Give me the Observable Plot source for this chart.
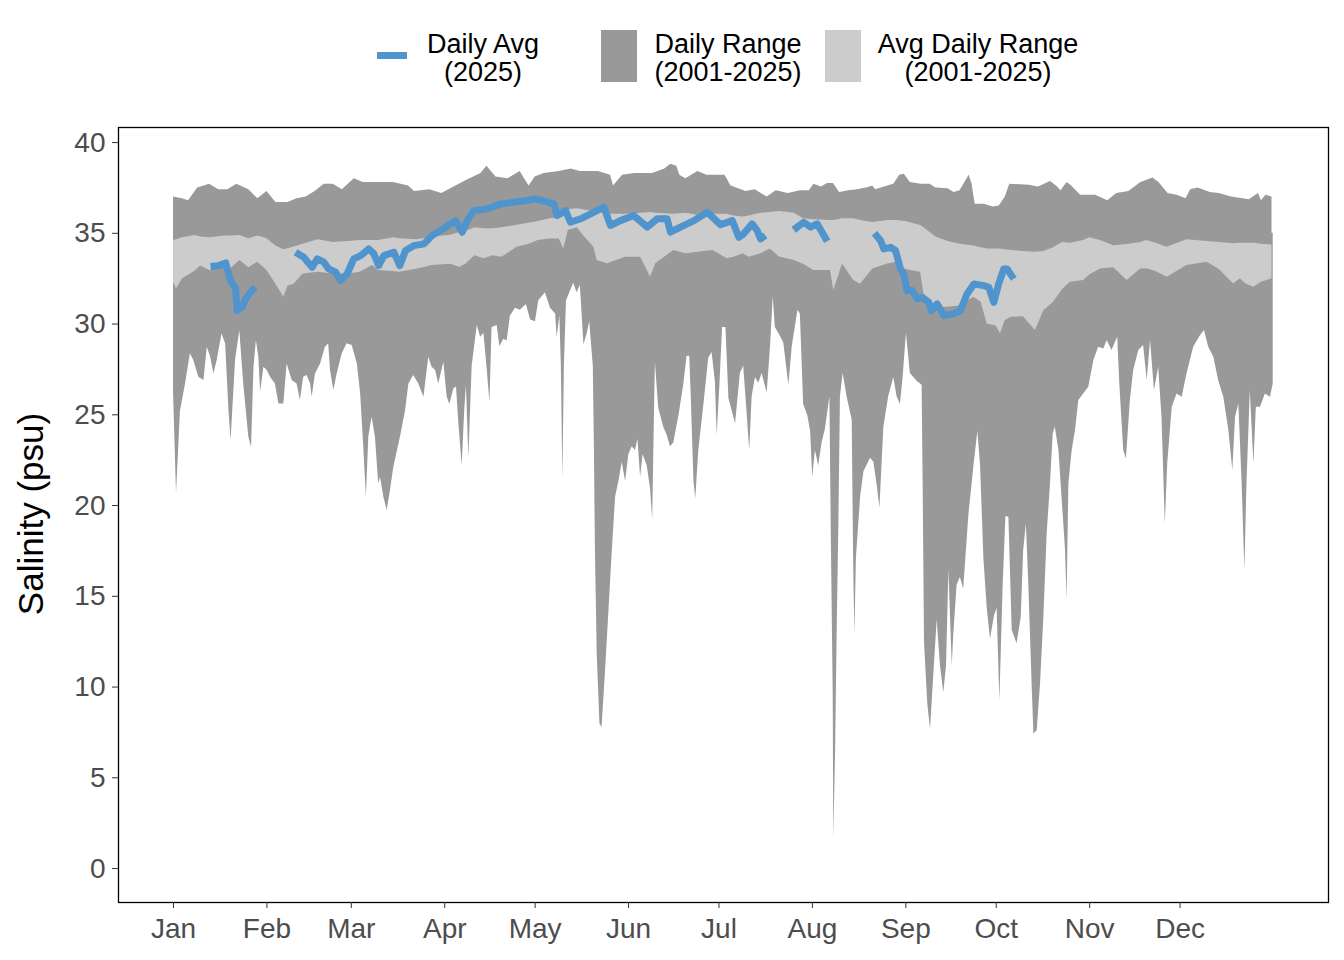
<!DOCTYPE html>
<html>
<head>
<meta charset="utf-8">
<script src="https://cdn.jsdelivr.net/npm/d3@7"></script>
<script src="https://cdn.jsdelivr.net/npm/@observablehq/plot@0.6"></script>
<style>
  body { margin: 0; background: white; font-family: "Liberation Sans", Arial, sans-serif; }
  #wrap { position: relative; width: 1344px; height: 960px; }
  #legend { position: absolute; left: 0; top: 0; width: 1344px; height: 100px; }
  .sw { position: absolute; }
  .lt { position: absolute; width: 260px; text-align: center; font-size: 27px; line-height: 28px; color: #000; }
  #ytitle { position: absolute; z-index: 5; width: 400px; left: -169px; top: 495px; text-align: center; font-size: 35px; line-height: 38px; color: #000; transform: rotate(-90deg); }
  #chart { position: absolute; left: 0; top: 100px; z-index: 1; }
</style>
</head>
<body>
<div id="wrap">
  <div id="legend">
    <div class="sw" style="left:377px;top:52px;width:30px;height:7px;background:#4F94CD"></div>
    <div class="lt" style="left:353px;top:30px">Daily Avg<br>(2025)</div>
    <div class="sw" style="left:601px;top:30px;width:36px;height:52px;background:#999999"></div>
    <div class="lt" style="left:598px;top:30px">Daily Range<br>(2001-2025)</div>
    <div class="sw" style="left:825px;top:30px;width:36px;height:52px;background:#CCCCCC"></div>
    <div class="lt" style="left:848px;top:30px">Avg Daily Range<br>(2001-2025)</div>
  </div>
  <div id="chart"></div>
  <div id="ytitle">Salinity (psu)</div>
</div>
<script>
// Month tick positions (day of year, 0 = Jan 1) and labels
const monthDays = [0, 31, 59, 90, 120, 151, 181, 212, 243, 273, 304, 334];
const monthLabels = ["Jan", "Feb", "Mar", "Apr", "May", "Jun", "Jul", "Aug", "Sep", "Oct", "Nov", "Dec"];
const yTicks = [0, 5, 10, 15, 20, 25, 30, 35, 40];

// Daily maximum (2001-2025)
const maxDays = [0,3,5,8,12,15,18,21,25,28,31,34,38,41,44,47,50,53,56,60,63,67,73,78,80,85,89,92,97,102,104,107,111,115,118,120,123,128,132,135,141,145,146,149,153,159,163,165,167,168,170,174,177,183,185,190,193,197,200,204,208,211,212.5,215,217,219,221,224,227,230,232,233,237,239,241,242.5,244.5,248,251,253,257,259,261,264,265,266,269,272,274,276,277.5,284,287,291,293,294.5,296.5,298,301,306,310,313,317,321,325,327,330,333,336,337.5,340,344,347,351,357,360,361,362.5,364.5];
const maxVals = [37.0,36.9,36.8,37.5,37.7,37.4,37.4,37.7,37.4,36.9,37.3,36.7,36.7,36.9,37.0,37.3,37.7,37.7,37.4,38.0,37.8,37.8,37.8,37.6,37.3,37.4,37.2,37.45,37.9,38.3,38.7,38.1,38.0,38.4,37.6,38.1,38.3,38.4,38.55,38.4,38.4,38.2,37.6,38.2,38.3,38.3,38.55,38.8,38.7,38.2,38.0,38.4,38.2,38.2,37.6,37.3,37.4,37.0,37.35,37.2,37.35,37.35,37.7,37.55,37.75,37.75,37.25,37.35,37.4,37.5,37.6,37.4,37.6,37.7,38.2,38.25,37.8,37.7,37.7,37.5,37.45,37.25,37.35,38.2,37.7,36.6,36.6,36.45,36.5,37.0,37.7,37.65,37.55,37.85,37.6,37.35,37.8,37.6,37.1,37.1,36.8,37.2,37.3,37.8,38.05,37.8,37.2,37.1,36.9,37.4,37.5,37.25,37.2,37.0,36.85,37.2,36.8,37.1,37.0];

// Daily minimum (2001-2025)
const minDays = [0,1,2.3,4,5.6,6.7,8.4,10.1,11.2,12.3,13.4,14.5,16.1,17.3,18.4,19.1,20.6,22,23.3,25,25.9,26.7,27.5,28.3,28.9,30,31.1,32.2,33.8,35,36.6,37.7,39.4,41,42.1,43.2,44.3,45.5,46,47.1,48.8,50.4,51.5,52.1,53.2,54.3,56,57.6,59.3,61,62.1,63.2,64,64.8,65.9,67,68.1,68.7,69.8,70.9,72,73.1,75.3,77,78.1,79.7,81.4,83.1,84.7,85.8,87,88,89.7,90.8,91.7,93,93.9,94.7,95.8,96.6,97.2,98,99.1,100.8,101.9,103,104.1,105,105.7,107.4,108.3,109.6,110.7,111.8,113.5,115.1,117.1,118.5,120.1,121.2,123.4,125.1,126.8,127.3,128.2,128.7,129.2,129.7,130.4,132.8,133.9,135,136.2,137.3,138.1,139.3,139.7,140,140.6,141.5,142.2,143.3,144.4,145.6,146.7,147.8,148.9,150,151.1,152.2,153.3,154.1,155,155.8,157.2,158.3,159,159.6,159.9,161,162.7,163.8,164.9,166,167.7,169.3,170.4,171.3,171.8,172.7,173.3,174.3,176,177.6,178.7,179.8,180.4,181.3,182.2,183.3,184.3,186.5,188.1,189.2,190.3,191.2,192,193.1,194.2,195.3,197,198.1,199,199.7,201.2,202.5,204.2,205.3,207.2,208,209.1,210.5,211.4,212.1,213,214.1,215.2,216.3,217.8,218.3,218.9,219.1,219.7,220.2,220.8,221.3,222.2,223.5,225.2,225.7,226.1,226.6,228,229.1,231.3,232.4,233.5,234.4,235.7,237.3,239,240.1,241.2,242.1,243.2,244.5,246.8,248.4,248.7,249.2,250.3,251.2,252.3,253.4,254.5,255.6,256.5,257.3,258.4,258.9,260,261.1,262.2,263.9,265.6,266.9,267.8,268.9,270,271.1,272.4,273.3,274.2,275.3,276.2,277.2,278.3,279.9,281.3,282.1,283,283.8,284.9,285.5,286.6,287.7,288.8,289.9,291,291.9,292.6,293.8,294.9,296,296.5,297.1,298.2,299.3,300.4,302,303.7,305.4,307,308.7,309.8,311.4,313.3,314,315.3,316.2,317.5,318.6,320.3,321.9,323.1,324.2,325.5,326.9,328,329.1,329.9,331.4,333,334.7,336.3,338.5,340.8,342.1,343.5,345.2,346.8,348.5,350.2,351.5,352.4,353.5,354.6,355.5,356.2,357.3,358.5,359.3,360.7,362.3,364,364.9];
const minVals = [26.3,20.65,25.2,26.7,28.36,28.0,27.07,26.89,28.72,28.2,27.25,28.0,29.46,28.9,25.23,23.58,28.0,29.64,26.7,23.77,23.21,27.6,29.09,28.2,26.25,27.62,27.44,27.07,26.7,25.6,25.6,27.8,26.89,26.7,25.79,27.07,27.16,26.7,25.97,27.25,27.8,28.72,28.9,27.44,26.34,27.25,28.36,28.91,28.82,27.8,26.15,23.03,20.46,23.77,24.87,23.77,21.19,21.56,20.46,19.73,20.83,22.11,23.77,25.23,26.7,27.16,26.7,25.97,28.17,27.62,27.44,26.7,27.9,26.0,25.57,26.42,26.53,24.51,22.18,25.15,26.63,22.6,27.69,29.92,29.28,29.49,27.48,25.68,29.81,29.92,28.75,29.17,29.07,30.45,30.87,30.76,31.08,30.23,30.13,31.29,31.72,30.87,30.55,29.28,30.45,27.69,21.44,27.69,31.29,32.25,31.72,32.14,28.86,29.49,30.13,27.69,22.6,17.52,11.8,7.98,7.77,10.73,13.91,17.52,20.48,21.33,22.39,21.33,22.82,23.24,23.03,23.66,21.54,22.82,22.18,20.91,19.21,25.15,27.9,25.36,24.3,23.88,23.24,23.45,24.94,26.63,28.22,28.22,25.99,21.33,20.38,23.03,25.57,28.12,28.43,26.84,23.88,26.63,29.81,29.81,25.9,24.51,27.27,27.69,25.15,23.03,25.99,27.06,26.74,27.27,26.21,28.75,31.51,29.81,29.39,28.96,26.63,28.75,30.76,30.55,25.57,24.94,24.09,21.55,23.03,22.18,23.45,24.19,25.99,17.94,9.68,1.62,6.5,12.85,19.21,25.99,27.27,25.99,24.72,16.67,12.85,17.09,20.48,21.86,22.6,22.39,21.12,19.85,24.3,25.99,27.06,25.99,25.57,27.06,29.49,27.27,26.84,26.63,21.97,12.43,9.04,7.66,10.73,13.7,11.16,9.68,11.16,16.46,11.16,12.85,15.61,16.03,15.4,19.43,22.18,24.09,22.18,17.09,14.34,12.64,13.91,14.34,9.25,15.6,19.4,19.36,13.11,12.38,13.85,17.52,18.99,15.68,10.17,7.42,7.6,10.17,13.85,18.44,21.19,23.95,24.32,23.03,20.28,17.52,14.77,21.19,23.03,24.13,25.79,26.15,26.52,27.99,28.72,28.63,29.09,28.54,29.27,26.7,23.03,22.57,25.79,27.44,28.54,28.82,26.89,29.09,26.34,27.62,24.87,18.99,22.3,25.42,26.15,25.97,27.25,28.72,29.37,29.64,28.72,28.17,26.89,25.97,24.13,21.93,24.87,25.6,21.19,16.42,21.19,26.34,22.3,25.42,25.42,26.15,25.97,26.7];

// Average daily range (2001-2025): days, average max, average min
const avgDays = [0,1,3,7,9,12,17,19,22,25,28,31,34,36.6,38,40,43,48,53,58,62,66,68,73,75,81,86,92,95,97,100,103,106,109,114,118,121,125,128,129.5,131,134,136,139.5,140.6,144,150,155,158.3,160,166,170,174,179,183.7,186,189,191,195,198,201,206,209,212.5,218,219.1,222,225.7,228,232,237,240,243,247.9,249,253,257,261,265.6,268,270,273,274.4,276,278,282,286,288.8,292,295,297.6,302,304,307.6,312,316.4,320.9,323,326,329.7,336.3,343,347,351.8,354,356,358.5,361,364.5];
const avgHi = [34.6,34.65,34.75,34.88,34.8,34.75,34.85,34.85,34.88,34.7,34.85,34.7,34.3,34.1,34.15,34.25,34.4,34.64,34.5,34.55,34.6,34.6,34.6,34.75,34.7,34.64,34.8,34.9,35.05,35.1,35.3,35.25,35.25,35.3,35.45,35.55,35.65,35.8,35.85,35.9,36.3,36.35,36.3,36.2,36.2,36.05,36.05,36.1,36.15,36.1,36.05,36.1,36.0,36.05,36.05,35.95,35.9,35.95,36.1,36.15,36.2,36.1,35.8,35.75,35.7,35.7,35.8,35.8,35.7,35.6,35.7,35.7,35.65,35.43,35.3,34.8,34.55,34.4,34.3,34.2,34.14,34.14,34.14,34.1,34.05,34.0,33.96,34.0,34.2,34.5,34.45,34.6,34.75,34.6,34.32,34.38,34.5,34.6,34.45,34.23,34.64,34.55,34.5,34.42,34.45,34.45,34.45,34.4,34.35];
const avgLo = [32.3,31.95,32.5,32.9,33.2,32.95,33.22,33.05,33.5,33.1,33.41,32.95,32.2,31.48,32.1,32.2,32.76,32.85,32.76,32.76,32.85,33.22,32.95,32.9,32.85,33.04,33.22,33.3,33.13,33.3,33.77,33.6,33.77,33.68,34.23,34.4,34.6,34.69,34.69,34.14,35.15,35.3,34.88,34.23,33.5,33.32,33.68,33.68,32.58,33.32,34.05,33.87,33.96,34.05,33.6,33.68,33.87,33.68,33.87,34.14,33.7,33.5,33.3,32.95,32.95,31.85,33.31,32.4,32.2,33.04,33.31,33.4,33.0,32.86,31.66,30.9,30.93,31.0,31.48,31.2,30.01,29.9,29.46,30.2,30.38,30.4,29.64,30.74,31.2,31.9,32.31,32.4,32.7,33.04,33.1,32.4,33.04,33.05,32.9,32.58,33.22,33.41,33.0,32.21,32.5,32.2,32.03,32.3,32.49];

// Daily average 2025 (null = no data, breaks the line)
const dailyDays = [12.3,15,17.3,18.9,20.6,21.1,22.8,23.9,25.6,27.2,34,40.5,43.2,46,47.7,49.9,51.5,53.8,55.4,57.6,59.8,62.1,64.8,66.5,68.1,69.8,73.1,75.1,77,79.7,83.1,85.8,88.6,90.8,93.6,95.8,97.4,99.7,104.1,108.5,112.9,117.4,120.1,122.9,126.2,127.3,130.1,131.7,135.1,138.4,142.8,145,148.3,152.7,157.2,160.5,163.8,164.9,168.2,172.7,177.1,181.5,185.4,187.6,189.2,192,193.7,194.8,196.4,200,205.8,209.1,211.4,213.6,215.2,216.9,225,232.6,234.6,235.7,237.9,239.6,241.2,242.3,243.4,245.1,246.8,248.4,250.6,251.4,253.4,255.6,258.9,261.1,263.3,265.6,268.9,270.5,272.2,273.8,275.5,276.6,278.8];
const dailyVals = [33.17,33.22,33.37,32.4,31.94,30.74,30.93,31.39,31.76,32.03,null,33.96,33.68,33.13,33.59,33.41,33.04,32.86,32.4,32.76,33.59,33.77,34.14,33.87,33.22,33.77,33.96,33.22,34.05,34.32,34.42,34.88,35.15,35.4,35.7,35.06,35.7,36.25,36.35,36.62,36.71,36.81,36.9,36.77,36.62,35.98,36.25,35.61,35.8,36.07,36.44,35.43,35.7,35.98,35.34,35.8,35.8,35.06,35.34,35.7,36.16,35.48,35.7,34.78,34.97,35.52,35.15,34.69,34.88,null,35.19,35.61,35.34,35.52,35.06,34.56,null,35.0,34.6,34.14,34.23,34.05,33.04,32.76,31.85,31.85,31.39,31.48,31.2,30.74,31.11,30.47,30.56,30.74,31.66,32.21,32.12,32.03,31.2,32.21,33.04,33.04,32.49];

const toRows = (days, vals) => days.map((d, i) => ({day: d, v: vals[i]}));
const maxRows = toRows(maxDays, maxVals);
const minRows = toRows(minDays, minVals);
const avgRows = avgDays.map((d, i) => ({day: d, hi: avgHi[i], lo: avgLo[i]}));
const dailyRows = toRows(dailyDays, dailyVals);

const chart = Plot.plot({
  width: 1344,
  height: 860,
  marginTop: 27,
  marginBottom: 58,
  marginLeft: 118,
  marginRight: 16,
  style: {fontFamily: "'Liberation Sans', Arial, sans-serif", background: "white", overflow: "visible"},
  x: {domain: [-18.25, 383.25]},
  y: {domain: [-1.87, 40.83]},
  marks: [
    Plot.areaY(maxRows, {x: "day", y1: 33, y2: "v", fill: "#999999"}),
    Plot.areaY(minRows, {x: "day", y1: "v", y2: 35, fill: "#999999"}),
    Plot.areaY(avgRows, {x: "day", y1: "lo", y2: "hi", fill: "#CCCCCC"}),
    Plot.line(dailyRows, {x: "day", y: "v", stroke: "#4F94CD", strokeWidth: 7, strokeLinejoin: "round", strokeLinecap: "butt"}),
    Plot.frame({stroke: "#000000", strokeWidth: 1.3}),
    Plot.axisY({ticks: yTicks, tickSize: 6, tickPadding: 7, fontSize: 28, stroke: "#333333", fill: "#4D4D4D", label: null}),
    Plot.axisX({ticks: monthDays, tickFormat: (d) => monthLabels[monthDays.indexOf(d)], tickSize: 6, tickPadding: 10, fontSize: 28, stroke: "#333333", fill: "#4D4D4D", label: null})
  ]
});
document.getElementById("chart").appendChild(chart);
</script>
</body>
</html>
